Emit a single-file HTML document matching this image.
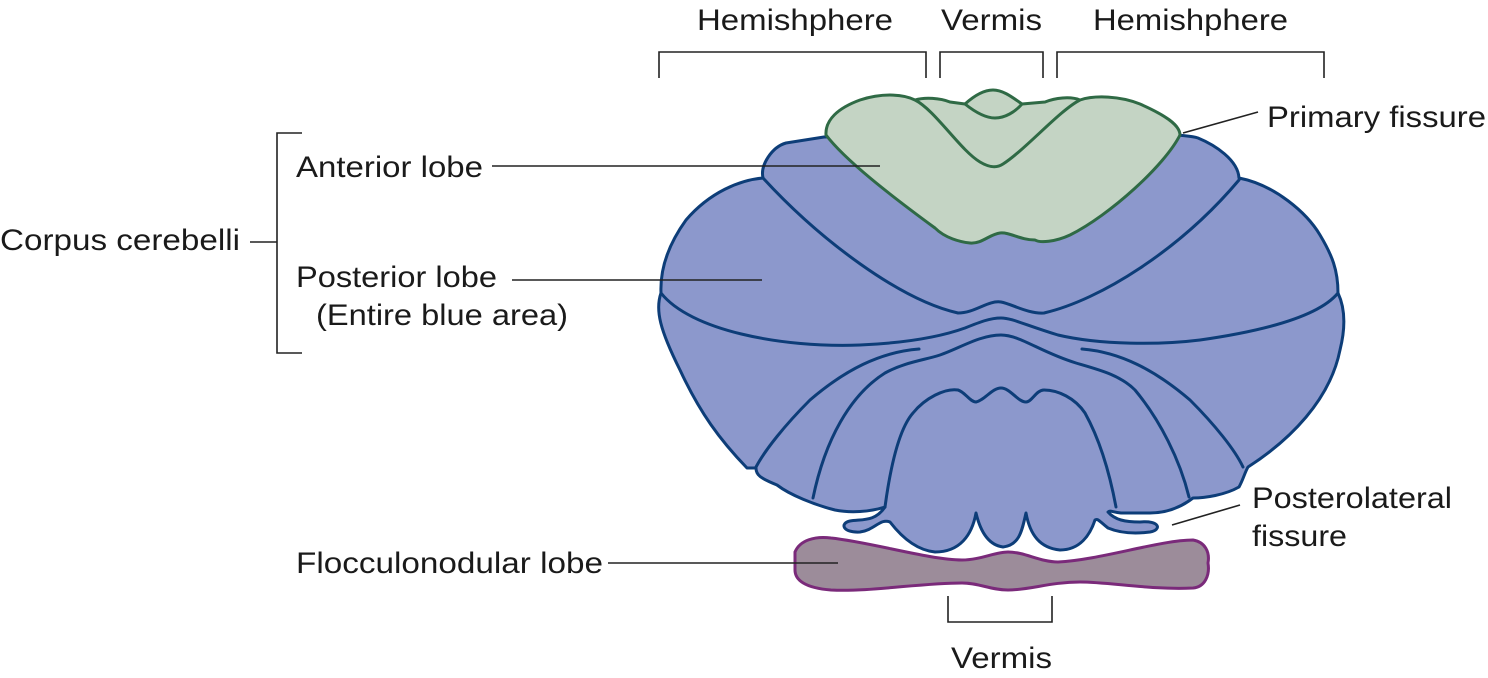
<!DOCTYPE html>
<html><head><meta charset="utf-8"><style>
html,body{margin:0;padding:0;background:#fff;}
svg{display:block;}
text{font-family:"Liberation Sans",Arial,sans-serif;font-size:30px;fill:#1a1a1a;}
</style></head><body>
<svg width="1488" height="678" viewBox="0 0 1488 678" xmlns="http://www.w3.org/2000/svg">
<!-- blue body -->
<path fill="#8c98cc" stroke="#0d3d78" stroke-width="3" stroke-linejoin="round" d="
M763,178 C760,165 772,147 786,143 L824,137 L1178,135 C1185,136 1192,136 1198,138 C1215,145 1238,160 1239,178
C1275,185 1307,213 1320,235 C1332,255 1338,270 1338,293 C1346,310 1345,330 1340,350 C1330,400 1290,440 1248,467
C1245,472 1243,480 1239,487 C1225,495 1205,498 1193,498 C1180,508 1165,513 1150,513 L1121,513 C1112,512 1110,510 1108,512
C1115,520 1125,522 1140,522 C1160,520 1162,530 1150,532 C1135,534 1120,533 1108,528 C1100,522 1098,518 1095,520
C1090,535 1080,550 1060,550 C1040,548 1030,535 1026,513 C1022,530 1020,545 1003,547 C988,545 980,530 976,513
C972,535 960,552 935,552 C915,550 900,535 890,522 C880,518 875,530 860,532 C842,533 840,523 850,521 C862,519 875,522 885,507
C870,512 850,513 835,510 C815,505 790,495 777,485 C760,478 756,475 756,468 L747,468 C720,440 700,413 680,370 C660,330 655,310 661,293
C660,270 668,245 686,220 C710,192 740,180 763,178 Z"/>
<g fill="none" stroke="#0d3d78" stroke-width="3" stroke-linecap="round">
<path d="M763,178 C820,240 900,300 958,313 C975,313 988,300 1001,302 C1012,304 1028,314 1044,313 C1100,300 1180,250 1239,180"/>
<path d="M661,293 C690,330 780,348 860,345 C905,343 940,337 965,328 C980,322 990,318 1001,318 C1012,318 1025,325 1058,335 C1100,345 1160,345 1200,340 C1270,330 1320,315 1338,293"/>
<path d="M919,349 C880,352 845,370 810,400 C785,425 765,450 756,467"/>
<path d="M1082,349 C1120,352 1155,370 1190,400 C1215,425 1235,450 1243,467"/>
<path d="M813,498 C825,440 850,395 885,373 C905,362 925,360 940,355 C960,348 980,335 1001,335 C1020,335 1040,352 1076,363 C1100,370 1120,375 1135,390 C1160,420 1180,460 1189,497"/>
<path d="M885,507 C890,470 898,430 913,413 C925,398 945,388 958,390 C965,392 970,402 976,402 C985,400 992,388 1001,388 C1010,388 1018,402 1026,402 C1032,402 1036,390 1044,390 C1058,390 1075,398 1085,413 C1100,440 1110,475 1116,507"/>
</g>
<!-- green anterior lobe -->
<path fill="#c4d4c4" stroke="#2f6a45" stroke-width="3" stroke-linejoin="round" d="
M826,135 C825,120 838,108 860,100 C885,92 905,95 915,100 C925,97 940,98 950,102 L965,104 C975,95 985,90 993,90 C1003,90 1012,97 1022,104 L1045,102 C1055,98 1070,96 1080,100 C1095,95 1120,96 1140,104 C1165,115 1180,125 1180,135
C1165,165 1110,215 1070,235 C1055,242 1040,243 1035,240 C1020,240 1010,232 1000,233 C990,234 982,244 970,243 C960,242 945,238 935,228 C890,195 845,160 826,135 Z"/>
<g fill="none" stroke="#2f6a45" stroke-width="3">
<path d="M915,100 C935,110 960,150 980,162 C990,168 997,168 1003,164 C1025,150 1060,110 1080,100"/>
<path d="M965,104 C975,112 985,118 995,118 C1005,118 1015,112 1022,104"/>
</g>
<!-- flocculonodular lobe -->
<path fill="#9c8c9a" stroke="#7a2a7a" stroke-width="3" d="M795,552 C800,540 815,536 831,538 C870,542 930,560 962,560 C980,560 995,552 1008,552 C1025,552 1040,562 1058,562 C1100,560 1160,540 1193,540 C1205,542 1210,552 1208,563 C1210,575 1205,587 1193,588 C1150,590 1110,582 1080,582 C1050,582 1030,590 1008,590 C990,590 980,583 962,583 C920,583 870,592 831,590 C805,588 795,580 795,570 Z"/>
<g fill="none" stroke="#222" stroke-width="1.6">
<path d="M659,78 V52 H926 V78"/>
<path d="M940,78 V52 H1043 V78"/>
<path d="M1057,78 V52 H1324 V78"/>
<path d="M302,133 H277 V353 H302"/>
<path d="M250,242 H277"/>
<path d="M948,596 V622 H1052 V596"/>
<path d="M492,166 H880"/>
<path d="M512,280 H762"/>
<path d="M608,563 H838"/>
<path d="M1183,133 L1258,112"/>
<path d="M1172,525 L1240,505"/>
</g>
<!-- labels -->
<text x="697" y="30" textLength="196" lengthAdjust="spacingAndGlyphs">Hemishphere</text>
<text x="941" y="30" textLength="101" lengthAdjust="spacingAndGlyphs">Vermis</text>
<text x="1093" y="30" textLength="195" lengthAdjust="spacingAndGlyphs">Hemishphere</text>
<text x="1267" y="127" textLength="219" lengthAdjust="spacingAndGlyphs">Primary fissure</text>
<text x="296" y="177" textLength="187" lengthAdjust="spacingAndGlyphs">Anterior lobe</text>
<text x="0" y="250" textLength="240" lengthAdjust="spacingAndGlyphs">Corpus cerebelli</text>
<text x="296" y="287" textLength="201" lengthAdjust="spacingAndGlyphs">Posterior lobe</text>
<text x="316" y="325" textLength="252" lengthAdjust="spacingAndGlyphs">(Entire blue area)</text>
<text x="1252" y="508" textLength="200" lengthAdjust="spacingAndGlyphs">Posterolateral</text>
<text x="1252" y="546" textLength="95" lengthAdjust="spacingAndGlyphs">fissure</text>
<text x="296" y="573" textLength="307" lengthAdjust="spacingAndGlyphs">Flocculonodular lobe</text>
<text x="951" y="668" textLength="101" lengthAdjust="spacingAndGlyphs">Vermis</text>
</svg>
</body></html>
